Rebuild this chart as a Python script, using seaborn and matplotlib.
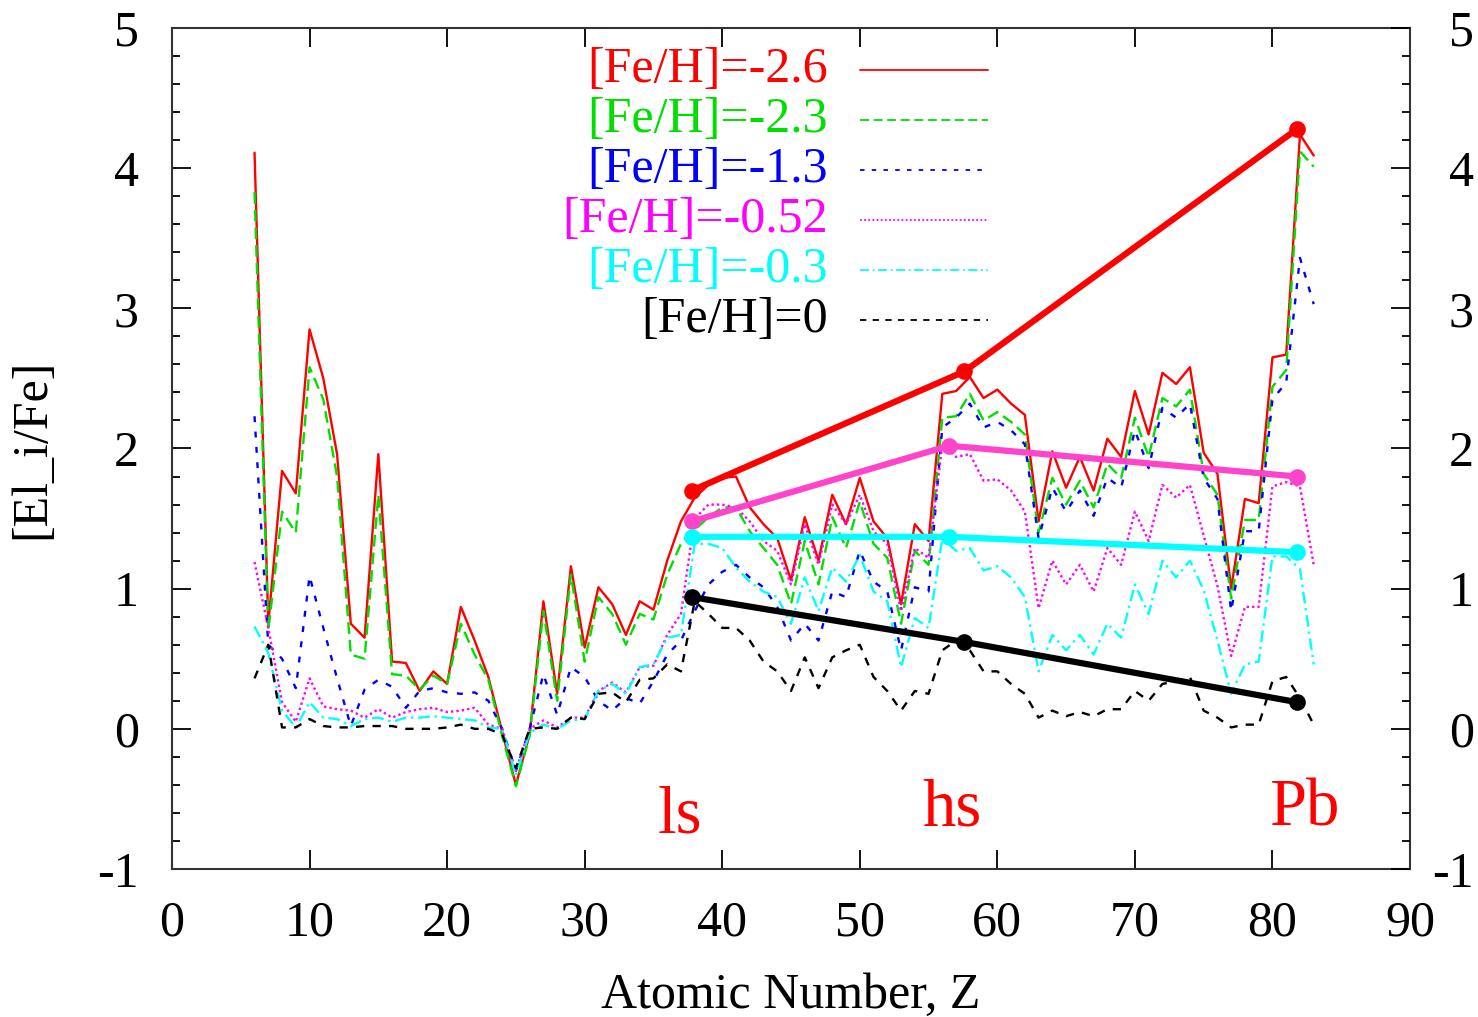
import numpy as np
import pandas as pd
import matplotlib
matplotlib.use("Agg")
import matplotlib.pyplot as plt
from matplotlib.ticker import MultipleLocator
import seaborn as sns

# ---------------- data ----------------
Z = list(range(6, 84))

fe_m26 = [4.11, 0.75, 1.84, 1.68, 2.85, 2.50, 1.96, 0.75, 0.65, 1.96,
          0.48, 0.47, 0.27, 0.41, 0.32, 0.87, 0.63, 0.37, -0.02, -0.40,
          -0.04, 0.91, 0.25, 1.16, 0.58, 1.01, 0.89, 0.67, 0.91, 0.85,
          1.20, 1.48, 1.65, 1.74, 1.79, 1.80, 1.58, 1.46, 1.36, 1.06,
          1.51, 1.20, 1.67, 1.46, 1.79, 1.48, 1.36, 0.89, 1.46, 1.34,
          2.39, 2.41, 2.51, 2.36, 2.42, 2.32, 2.24, 1.48, 1.98, 1.72,
          1.94, 1.70, 2.07, 1.94, 2.41, 2.10, 2.54, 2.46, 2.58, 1.97,
          1.82, 1.00, 1.64, 1.61, 2.65, 2.67, 4.24, 4.09]

fe_m23 = [3.83, 0.70, 1.55, 1.40, 2.58, 2.35, 1.80, 0.53, 0.50, 1.67,
          0.39, 0.38, 0.28, 0.38, 0.32, 0.75, 0.53, 0.35, -0.05, -0.41,
          -0.05, 0.84, 0.20, 1.10, 0.48, 0.94, 0.82, 0.60, 0.82, 0.78,
          1.10, 1.32, 1.42, 1.51, 1.58, 1.58, 1.41, 1.29, 1.17, 0.89,
          1.34, 1.03, 1.51, 1.29, 1.62, 1.32, 1.22, 0.75, 1.27, 1.17,
          2.22, 2.23, 2.39, 2.20, 2.26, 2.19, 2.10, 1.40, 1.79, 1.60,
          1.77, 1.58, 1.89, 1.79, 2.22, 1.94, 2.36, 2.30, 2.42, 1.82,
          1.67, 0.93, 1.49, 1.49, 2.44, 2.56, 4.12, 4.01]

fe_m13 = [2.23, 0.60, 0.50, 0.29, 1.09, 0.72, 0.36, 0.02, 0.28, 0.35,
          0.30, 0.15, 0.27, 0.29, 0.26, 0.25, 0.26, 0.20, 0.00, -0.30,
          0.00, 0.39, 0.10, 0.44, 0.37, 0.20, 0.13, 0.22, 0.18, 0.34,
          0.53, 0.63, 0.84, 1.03, 1.12, 1.17, 1.08, 1.01, 0.87, 0.63,
          0.75, 0.63, 0.98, 0.94, 1.27, 1.05, 0.98, 0.56, 1.01, 0.98,
          2.15, 2.22, 2.32, 2.15, 2.19, 2.13, 2.03, 1.36, 1.72, 1.55,
          1.70, 1.52, 1.79, 1.72, 2.13, 1.86, 2.29, 2.22, 2.32, 1.79,
          1.64, 0.84, 1.41, 1.41, 2.35, 2.47, 3.36, 3.03]

fe_m052 = [1.19, 0.72, 0.19, 0.05, 0.36, 0.16, 0.14, 0.13, 0.08, 0.14,
           0.08, 0.12, 0.14, 0.15, 0.12, 0.13, 0.15, 0.03, 0.00, -0.30,
           0.00, 0.06, 0.01, 0.08, 0.08, 0.27, 0.33, 0.26, 0.44, 0.45,
           0.67, 0.82, 1.50, 1.60, 1.60, 1.58, 1.48, 1.34, 1.27, 1.03,
           1.46, 1.17, 1.60, 1.46, 1.67, 1.41, 1.32, 0.84, 1.29, 1.22,
           2.03, 1.94, 1.96, 1.77, 1.78, 1.70, 1.55, 0.86, 1.20, 1.03,
           1.17, 0.98, 1.29, 1.17, 1.55, 1.34, 1.74, 1.65, 1.74, 1.38,
           1.02, 0.52, 0.87, 0.87, 1.73, 1.76, 1.73, 1.17]

fe_m03 = [0.73, 0.54, 0.13, 0.01, 0.19, 0.08, 0.07, 0.02, 0.07, 0.08,
          0.05, 0.08, 0.08, 0.09, 0.08, 0.07, 0.06, 0.01, 0.00, -0.33,
          -0.03, 0.03, 0.00, 0.06, 0.07, 0.27, 0.32, 0.25, 0.44, 0.46,
          0.65, 0.67, 1.32, 1.32, 1.29, 1.15, 1.05, 0.98, 0.94, 0.75,
          1.08, 0.84, 1.15, 1.05, 1.24, 0.98, 0.91, 0.44, 0.79, 0.72,
          1.36, 1.27, 1.29, 1.13, 1.16, 1.08, 0.94, 0.41, 0.67, 0.56,
          0.67, 0.53, 0.75, 0.65, 1.03, 0.82, 1.20, 1.08, 1.20, 0.99,
          0.63, 0.25, 0.46, 0.48, 1.23, 1.23, 1.14, 0.46]

fe_0 = [0.36, 0.60, 0.01, 0.01, 0.07, 0.02, 0.01, 0.01, 0.02, 0.02,
        0.02, 0.00, 0.00, 0.00, 0.01, 0.03, 0.00, 0.00, -0.04, -0.28,
        0.00, 0.01, 0.00, 0.08, 0.07, 0.25, 0.26, 0.19, 0.35, 0.36,
        0.46, 0.41, 0.91, 0.82, 0.72, 0.72, 0.63, 0.48, 0.41, 0.27,
        0.51, 0.29, 0.51, 0.56, 0.60, 0.37, 0.27, 0.13, 0.27, 0.25,
        0.56, 0.63, 0.56, 0.41, 0.41, 0.32, 0.25, 0.08, 0.13, 0.09,
        0.12, 0.09, 0.14, 0.14, 0.27, 0.20, 0.32, 0.34, 0.37, 0.13,
        0.08, 0.01, 0.03, 0.03, 0.34, 0.37, 0.22, 0.03]

labels = ["[Fe/H]=-2.6", "[Fe/H]=-2.3", "[Fe/H]=-1.3",
          "[Fe/H]=-0.52", "[Fe/H]=-0.3", "[Fe/H]=0"]

# ls / hs / Pb summary points
peak_red_z = [37.8, 57.6, 81.8]
peak_red_v = [1.70, 2.55, 4.28]
peak_pink_z = [37.8, 56.5, 81.8]
peak_pink_v = [1.48, 2.02, 1.80]
peak_cyan_z = [37.8, 56.5, 81.8]
peak_cyan_v = [1.37, 1.37, 1.26]
peak_black_z = [37.8, 57.6, 81.8]
peak_black_v = [0.94, 0.62, 0.19]

peak_names = ["ls", "hs", "Pb"]
peak_name_z = [36.9, 56.7, 82.3]
peak_name_v = [-0.62, -0.57, -0.57]

# ---------------- style ----------------
sns.set_theme(style="ticks")
plt.rcParams['font.family'] = ['Liberation Serif', 'DejaVu Serif']
plt.rcParams['axes.linewidth'] = 1.5
plt.rcParams['axes.unicode_minus'] = False
plt.rcParams['axes.labelcolor'] = 'black'
plt.rcParams['text.color'] = 'black'

fig = plt.figure(figsize=(14.78, 10.17), dpi=100)
ax = fig.add_axes([172/1478, 1 - 869/1017, (1410-172)/1478, (869-28)/1017])

series = [fe_m26, fe_m23, fe_m13, fe_m052, fe_m03, fe_0]
colors = ['#ff0000', '#00e000', '#0000ff', '#ff00ff', '#00ffff', '#000000']
styles = ['-', (0, (5, 2.5)), (0, (2.5, 4)), (0, (1, 1.3)), (0, (5, 2, 1, 2)), (0, (3.5, 3.5))]

for vals, c, ls in zip(series, colors, styles):
    sns.lineplot(x=Z, y=vals, ax=ax, color=c, linestyle=ls, lw=1.7,
                 sort=False, estimator=None, legend=False)

thick = [(peak_red_z, peak_red_v, '#ff0000'),
         (peak_pink_z, peak_pink_v, '#ff44cc'),
         (peak_cyan_z, peak_cyan_v, '#00ffff'),
         (peak_black_z, peak_black_v, '#000000')]
for zz, vv, c in thick:
    sns.lineplot(x=zz, y=vv, ax=ax, color=c, lw=4.5, marker='o',
                 markersize=12, markeredgewidth=0, sort=False,
                 estimator=None, legend=False)

for name, zz, vv in zip(peak_names, peak_name_z, peak_name_v):
    ax.text(zz, vv, name, color='#ff0000', fontsize=48, ha='center', va='center')

# manual legend (text right-aligned, sample to the right)
row_y = [0.950, 0.891, 0.831, 0.772, 0.712, 0.653]
for lab, c, ls, yy in zip(labels, colors, styles, row_y):
    ax.text(0.53, yy, lab, color=c, fontsize=36, ha='right', va='center',
            transform=ax.transAxes)
    ax.plot([0.556, 0.659], [yy, yy], color=c, linestyle=ls, lw=1.3,
            transform=ax.transAxes)

ax.set_xlim(0, 90)
ax.set_ylim(-1, 5)
ax.xaxis.set_major_locator(MultipleLocator(10))
ax.yaxis.set_major_locator(MultipleLocator(1))
ax.yaxis.set_minor_locator(MultipleLocator(0.2))
ax.tick_params(which='both', direction='in', top=True, right=True,
               labelright=False, labelsize=36, colors='black')
ax.tick_params(which='major', length=14, width=1.3)
ax.tick_params(which='minor', length=6, width=1.3)
ax.tick_params(axis='y', pad=24)
ax.tick_params(axis='x', pad=22)
for sp in ax.spines.values():
    sp.set_color('#333333')
    sp.set_visible(True)

# right-hand labels (right aligned, like the reference)
ax2 = ax.twinx()
ax2.set_ylim(-1, 5)
ax2.yaxis.set_major_locator(MultipleLocator(1))
ax2.yaxis.set_minor_locator(MultipleLocator(0.2))
ax2.tick_params(which='both', direction='in', labelsize=36, colors='black', pad=46)
ax2.tick_params(which='major', length=14, width=1.3)
ax2.tick_params(which='minor', length=6, width=1.3)
for t in ax2.get_yticklabels():
    t.set_horizontalalignment('right')
for sp in ax2.spines.values():
    sp.set_visible(False)
ax2.grid(False)

ax.set_xlabel("Atomic Number, Z", fontsize=36, labelpad=19, color='black')
ax.set_ylabel("[El_i/Fe]", fontsize=36, labelpad=30, color='black')

fig.savefig("out.png", dpi=100)
